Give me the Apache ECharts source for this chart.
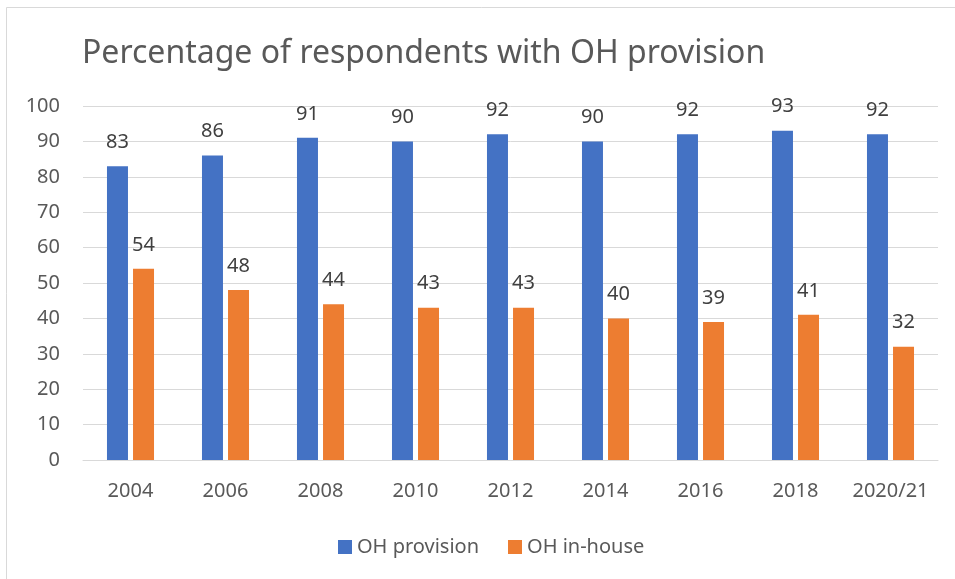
<!DOCTYPE html>
<html>
<head>
<meta charset="utf-8">
<script src="https://cdn.jsdelivr.net/npm/echarts@6/dist/echarts.min.js"></script>
<style>
	html, body { margin: 0; padding: 0; background: #fff; }
	#chart { width: 955px; height: 579px; }
</style>
</head>
<body>
<div id="chart"></div>
<script>
/** ----------------图表数据-------------------------* */
var years = ['2004', '2006', '2008', '2010', '2012', '2014', '2016', '2018', '2020/21'];
var ohProvision = [83, 86, 91, 90, 92, 90, 92, 93, 92];
var ohInHouse = [54, 48, 44, 43, 43, 40, 39, 41, 32];
var yTicks = { min: 0, max: 100, interval: 10 };

var fontName = 'Noto Sans';
var gridColor = '#d9d9d9';
var textColor = '#595959';

/** --------加载图表 ------ */
function initChart() {
	var chart = echarts.init(document.getElementById('chart'), null, { renderer: 'canvas' });

	var labelStyle = {
		show: true,
		position: 'top',
		distance: 14,
		fontFamily: fontName,
		fontSize: 20,
		color: '#404040'
	};

	var option = {
		animation: false,
		backgroundColor: '#fff',
		textStyle: { fontFamily: fontName },
		graphic: [{
			type: 'rect',
			shape: { x: 6.5, y: 7.5, width: 1000, height: 1000 },
			style: { fill: 'none', stroke: gridColor, lineWidth: 1 },
			silent: true
		}],
		title: {
			text: 'Percentage of respondents with OH provision',
			left: 77,
			top: 33,
			textStyle: {
				fontFamily: fontName,
				fontSize: 32,
				fontWeight: 'normal',
				color: textColor
			}
		},
		legend: {
			left: 333,
			top: 532,
			itemWidth: 14,
			itemHeight: 14,
			itemGap: 29,
			icon: 'rect',
			textStyle: { fontFamily: fontName, fontSize: 20, color: textColor },
			data: ['OH provision', 'OH in-house']
		},
		grid: {
			left: 83,
			right: 17,
			top: 106,
			bottom: 119,
			containLabel: false
		},
		xAxis: {
			type: 'category',
			data: years,
			axisLine: { show: true, lineStyle: { color: gridColor, width: 1 } },
			axisTick: { show: false },
			axisLabel: { interval: 0, margin: 21, fontFamily: fontName, fontSize: 20, color: textColor }
		},
		yAxis: {
			type: 'value',
			min: yTicks.min,
			max: yTicks.max,
			interval: yTicks.interval,
			axisLine: { show: false },
			axisTick: { show: false },
			axisLabel: { margin: 23, fontFamily: fontName, fontSize: 20, color: textColor },
			splitLine: { lineStyle: { color: gridColor, width: 1 } }
		},
		series: [{
			name: 'OH provision',
			type: 'bar',
			data: ohProvision,
			barWidth: 21,
			barGap: '24%',
			itemStyle: { color: '#4472C4' },
			label: labelStyle
		}, {
			name: 'OH in-house',
			type: 'bar',
			data: ohInHouse,
			barWidth: 21,
			barGap: '24%',
			itemStyle: { color: '#ED7D31' },
			label: labelStyle
		}]
	};
	chart.setOption(option);
}

initChart();
</script>
</body>
</html>
